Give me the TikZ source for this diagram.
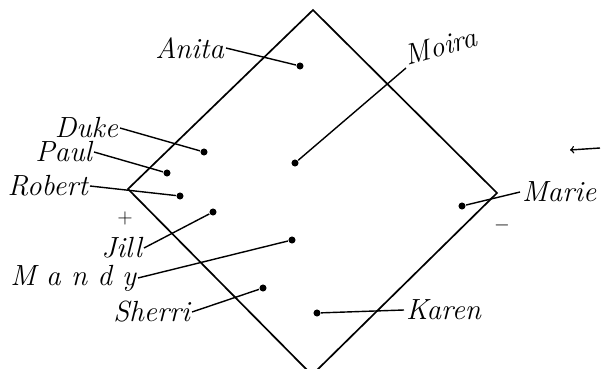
\documentclass[tikz,border=0pt]{standalone}
\usepackage{amsmath}
\usepackage{xcolor}

\begin{document}
\begin{tikzpicture}[
  line width=1pt,  person/.style={font=\huge\itshape,inner sep=1pt},  spot/.style={circle,fill,inner sep=0pt,minimum size=5pt},  sign/.style={font=\Large,inner sep=0pt}
]
  \useasboundingbox (0,0) rectangle (15.125,9.2);
  % the diamond
  \draw[line width=1.2pt] (7.825,8.950) -- (12.425,4.375) -- (7.800,-0.175) -- (3.200,4.475) -- cycle;
  % points inside
  \node[spot] (danita) at (7.500,7.550) {};
  \node[spot] (dmoira) at (7.375,5.125) {};
  \node[spot] (dduke) at (5.100,5.400) {};
  \node[spot] (dpaul) at (4.175,4.875) {};
  \node[spot] (drobert) at (4.500,4.300) {};
  \node[spot] (djill) at (5.325,3.900) {};
  \node[spot] (dmandy) at (7.300,3.200) {};
  \node[spot] (dsherri) at (6.575,2.000) {};
  \node[spot] (dkaren) at (7.925,1.375) {};
  \node[spot] (dmarie) at (11.550,4.050) {};
  % names
  \node[person,anchor=east] (anita) at (5.650,8.000) {Anita};
  \node[person,anchor=south west,rotate=15] (moira) at (10.150,7.500) {Moira};
  \node[person,anchor=east] (duke) at (3.000,6.000) {Duke};
  \node[person,anchor=east] (paul) at (2.350,5.400) {Paul};
  \node[person,anchor=east] (robert) at (2.250,4.550) {Robert};
  \node[person,anchor=east] (jill) at (3.600,3.000) {Jill};
  \node[person,anchor=east] (mandy) at (3.450,2.250) {M a n d y};
  \node[person,anchor=east] (sherri) at (4.800,1.400) {Sherri};
  \node[person,anchor=west] (karen) at (10.100,1.450) {Karen};
  \node[person,anchor=west] (marie) at (13.000,4.400) {Marie};
  \node[sign] (plus) at (3.125,3.750) {$+$};
  \node[sign] (minus) at (12.550,3.575) {$-$};
  \coordinate (arrtail) at (15.000,5.500);
  \coordinate (arrhead) at (14.250,5.450);
  % connectors
  \draw (anita.east) -- (danita);
  \draw (moira.south west) -- (dmoira);
  \draw (duke.east) -- (dduke);
  \draw (paul.east) -- (dpaul);
  \draw (robert.east) -- (drobert);
  \draw (jill.east) -- (djill);
  \draw (mandy.east) -- (dmandy);
  \draw (sherri.east) -- (dsherri);
  \draw (karen.west) -- (dkaren);
  \draw (marie.west) -- (dmarie);
  \draw[->] (arrtail) -- (arrhead);
\end{tikzpicture}
\end{document}
